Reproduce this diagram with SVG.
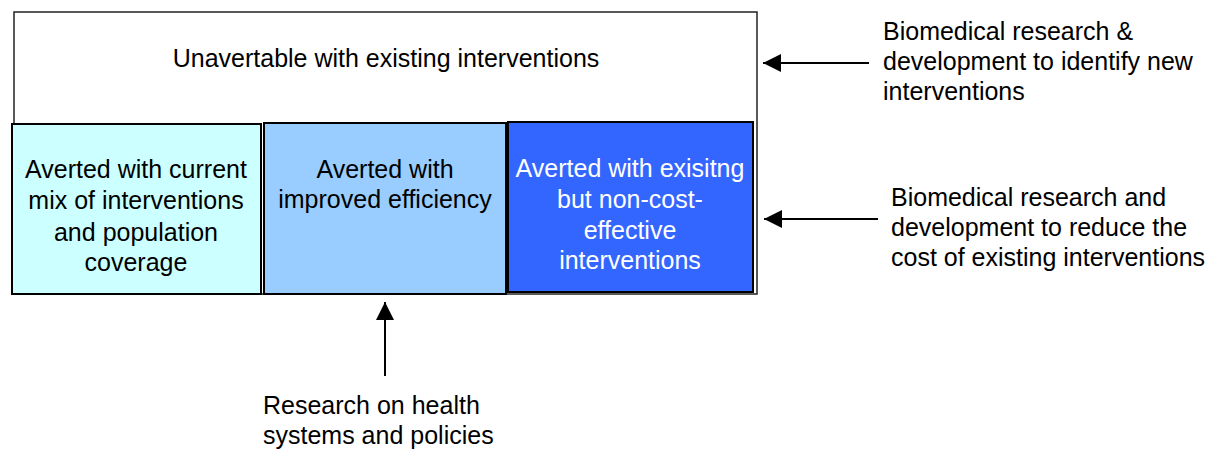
<svg xmlns="http://www.w3.org/2000/svg" width="1215" height="449" viewBox="0 0 1215 449">
<style>
text{font-family:"Liberation Sans",Arial,sans-serif;font-size:25px;fill:#000}
.c{text-anchor:middle}
.w{fill:#fff}
.box{stroke:#000;stroke-width:2}
.ln{stroke:#000;stroke-width:2;fill:none}
</style>
<defs>
<marker id="ah" markerWidth="18" markerHeight="18" refX="18" refY="9" orient="auto" markerUnits="userSpaceOnUse">
<path d="M0,0 L18,9 L0,18 Z" fill="#000"/>
</marker>
</defs>
<rect width="1215" height="449" fill="#fff"/>
<g id="outer">
<rect x="14" y="12" width="743" height="282" fill="#fff" stroke="#222" stroke-width="1.5"/>
<text class="c" x="386" y="67">Unavertable with existing interventions</text>
</g>
<g id="box1">
<rect class="box" x="12" y="124" width="249" height="170" fill="#CCFFFF"/>
<text class="c" x="136" y="178">Averted with current</text>
<text class="c" x="136" y="209">mix of interventions</text>
<text class="c" x="136" y="241">and population</text>
<text class="c" x="136" y="271">coverage</text>
</g>
<g id="box2">
<rect class="box" x="264" y="123" width="242" height="171" fill="#99CCFF"/>
<text class="c" x="385" y="178">Averted with</text>
<text class="c" x="385" y="208">improved efficiency</text>
</g>
<g id="box3">
<rect class="box" x="508" y="122" width="245" height="170" fill="#3366FF"/>
<text class="c w" x="630" y="177">Averted with exisitng</text>
<text class="c w" x="630" y="208">but non-cost-</text>
<text class="c w" x="630" y="239">effective</text>
<text class="c w" x="630" y="269">interventions</text>
</g>
<g id="connectors">
<line class="ln" x1="869" y1="63" x2="763" y2="63" marker-end="url(#ah)"/>
<line class="ln" x1="878" y1="219" x2="764" y2="219" marker-end="url(#ah)"/>
<line class="ln" x1="385" y1="376" x2="385" y2="302" marker-end="url(#ah)"/>
</g>
<g id="label1">
<text x="883" y="40">Biomedical research &amp;</text>
<text x="883" y="70">development to identify new</text>
<text x="883" y="100">interventions</text>
</g>
<g id="label2">
<text x="891" y="206">Biomedical research and</text>
<text x="891" y="236">development to reduce the</text>
<text x="891" y="266">cost of existing interventions</text>
</g>
<g id="label3">
<text x="263" y="414">Research on health</text>
<text x="263" y="444">systems and policies</text>
</g>
</svg>
